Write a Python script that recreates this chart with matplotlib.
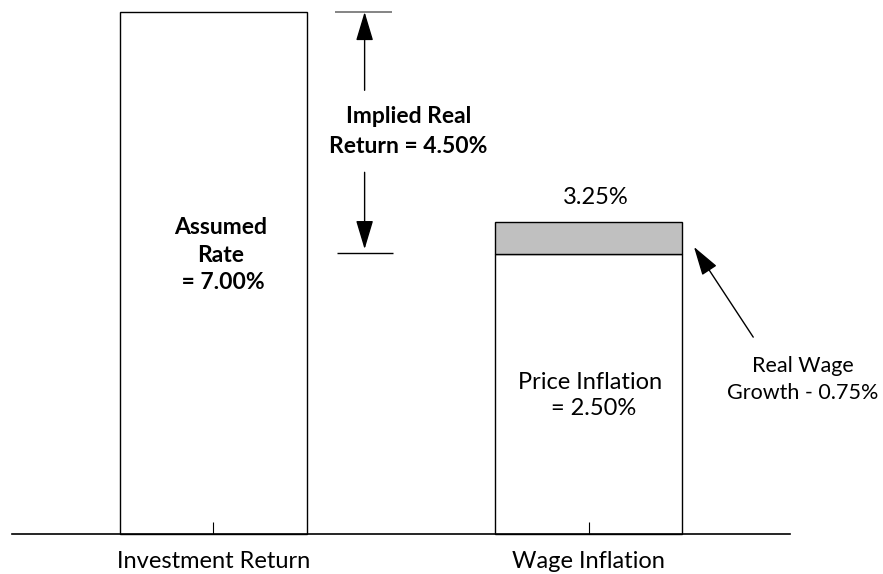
import matplotlib.pyplot as plt

plt.rcParams['font.family'] = ['Lato', 'DejaVu Sans']

# bar heights as drawn (the picture is schematic, not to scale)
categories = ['Investment Return', 'Wage Inflation']
investment_height = 7.0
wage_total_height = 4.18
price_height = 3.75

# labels shown on the chart
assumed_label = 'Assumed\nRate\n = 7.00%'
implied_label = 'Implied Real\nReturn = 4.50%'
wage_total_label = '3.25%'
price_label = 'Price Inflation\n = 2.50%'
real_wage_label = 'Real Wage\nGrowth - 0.75%'

fig = plt.figure(figsize=(8.83, 5.74), dpi=100)
ax = fig.add_axes([12 / 883, 40 / 574, 778 / 883, 522 / 574])

bar_w = 0.4987
ax.bar(0, investment_height, width=bar_w, color='white', edgecolor='black',
       linewidth=1.0, clip_on=False)
ax.bar(1, price_height, width=bar_w, color='white', edgecolor='black',
       linewidth=1.0, clip_on=False)
ax.bar(1, wage_total_height - price_height, bottom=price_height, width=bar_w,
       color='#c0c0c0', edgecolor='black', linewidth=1.0, clip_on=False)

ax.set_xlim(-0.537, 1.537)
ax.set_ylim(0, investment_height)

# implied real return marker
xa = 0.403
ax.hlines(investment_height, 0.324, 0.476, color='#707070', lw=1.2, clip_on=False)
ax.hlines(price_height + 0.02, 0.329, 0.479, color='black', lw=1.0, clip_on=False)
arrow = dict(arrowstyle='-|>,head_length=0.9,head_width=0.27', color='black',
             lw=1.0, shrinkA=0, shrinkB=0, mutation_scale=20)
ax.annotate('', xy=(xa, investment_height), xytext=(xa, 5.95), arrowprops=arrow,
            annotation_clip=False)
ax.annotate('', xy=(xa, price_height + 0.07), xytext=(xa, 4.85), arrowprops=arrow,
            annotation_clip=False)
ax.text(0.519, 5.40, implied_label, ha='center', va='center', fontsize=16.5,
        fontweight='bold', linespacing=1.52)

ax.text(0.018, 3.74, assumed_label, ha='center', va='center', fontsize=16.5,
        fontweight='bold', linespacing=1.38)

ax.text(1.02, 4.51, wage_total_label, ha='center', va='center', fontsize=17)
ax.text(1.005, 1.86, price_label, ha='center', va='center', fontsize=17,
        linespacing=1.32)

ax.annotate('', xy=(1.281, 3.85), xytext=(1.439, 2.64), arrowprops=arrow,
            annotation_clip=False)
ax.text(1.772, 2.07, real_wage_label, ha='right', va='center', fontsize=15.5,
        linespacing=1.42, multialignment='center')

for s in ['left', 'top', 'right']:
    ax.spines[s].set_visible(False)
ax.spines['bottom'].set_linewidth(1.2)
ax.set_yticks([])
ax.set_xticks([0, 1], categories, fontsize=17)
ax.tick_params(axis='x', direction='in', length=8.6, width=0.8, pad=12)

fig.savefig('out.png', dpi=100)
